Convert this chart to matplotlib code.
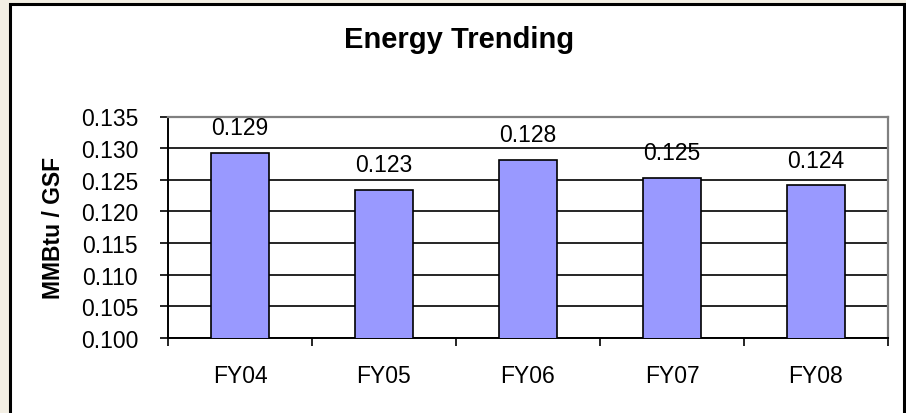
import matplotlib
matplotlib.use("Agg")
import matplotlib.pyplot as plt
from matplotlib.patches import Rectangle
from matplotlib.ticker import FixedLocator

categories = ["FY04", "FY05", "FY06", "FY07", "FY08"]
values = [0.1293, 0.1234, 0.1281, 0.1253, 0.1241]
value_labels = ["0.129", "0.123", "0.128", "0.125", "0.124"]
y_ticks = [0.100, 0.105, 0.110, 0.115, 0.120, 0.125, 0.130, 0.135]

plt.rcParams['font.family'] = ['Liberation Sans', 'DejaVu Sans']

W, H = 906, 414
fig = plt.figure(figsize=(W / 100, H / 100), dpi=100)
fig.patch.set_facecolor('#F3EFE4')

# chart area box
fig.patches.append(Rectangle((9.5 / W, -0.05), (904 - 9.5) / W, (H - 4.5) / H + 0.05,
                             transform=fig.transFigure, facecolor='white',
                             edgecolor='black', linewidth=2.2, zorder=-5))

ax = fig.add_axes([168 / W, (H - 339) / H, (888 - 168) / W, (339 - 117.5) / H])
ax.set_zorder(2)
ax.set_facecolor('white')

x = list(range(len(categories)))
ax.bar(x, values, width=0.4, color='#9999FF', edgecolor='black', linewidth=1.2, zorder=3)

ax.set_xlim(-0.5, len(categories) - 0.5)
ax.set_ylim(0.100, 0.135)
ax.yaxis.set_major_locator(FixedLocator(y_ticks))
ax.set_yticklabels([f"{t:.3f}" for t in y_ticks], fontsize=16.5)

ax.grid(axis='y', color='black', linewidth=1.2, zorder=1)
ax.set_axisbelow(True)

# category boundary ticks
ax.xaxis.set_major_locator(FixedLocator([i - 0.5 for i in range(len(categories) + 1)]))
ax.xaxis.set_major_formatter(plt.NullFormatter())
ax.xaxis.set_minor_locator(FixedLocator(x))
ax.set_xticklabels(categories, minor=True, fontsize=16.5)
ax.tick_params(axis='x', which='major', direction='out', length=6, width=1.2, color='black')
ax.tick_params(axis='x', which='minor', length=0, pad=18.5)
ax.tick_params(axis='y', direction='out', length=6, width=1.2, pad=15.5)

for s in ['left', 'bottom']:
    ax.spines[s].set_color('black')
    ax.spines[s].set_linewidth(1.4)
for s in ['top', 'right']:
    ax.spines[s].set_color('#808080')
    ax.spines[s].set_linewidth(1.6)

for xi, v, lab in zip(x, values, value_labels):
    ax.annotate(lab, (xi, v), xytext=(0, 13.5), textcoords='offset points',
                ha='center', va='baseline', fontsize=16.5, zorder=4)

ax.set_ylabel("MMBtu / GSF", fontsize=16.5, fontweight='bold', labelpad=11)
fig.text(459 / W, (H - 40) / H, "Energy Trending", ha='center', va='center',
         fontsize=21, fontweight='bold')

fig.savefig("out.png", dpi=100, facecolor=fig.get_facecolor())
